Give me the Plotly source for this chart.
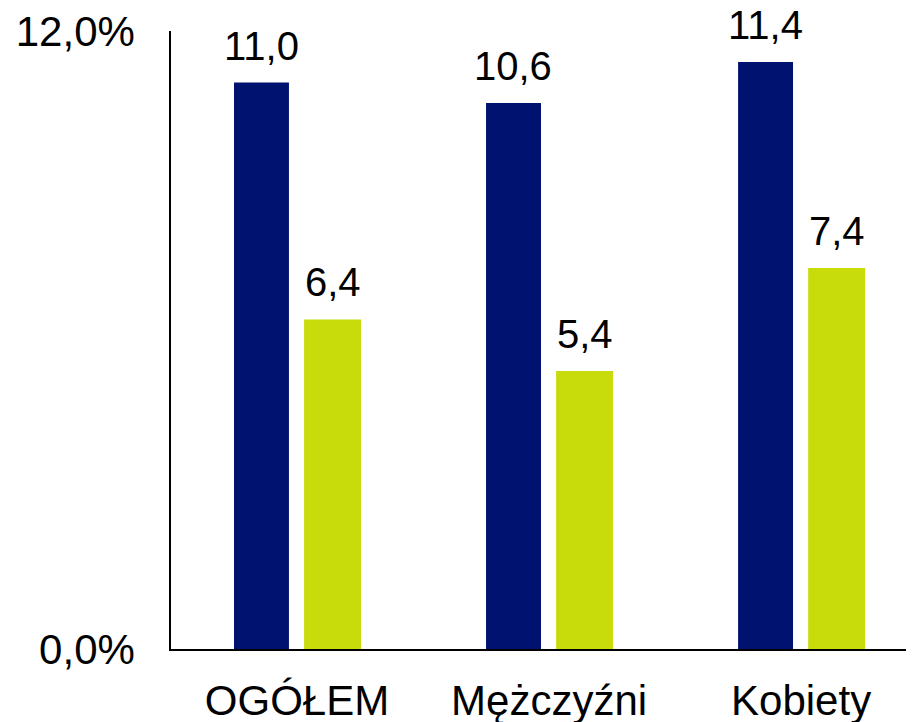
import plotly.graph_objects as go

categories = ["OGÓŁEM", "Mężczyźni", "Kobiety"]
series_a = [11.0, 10.6, 11.4]
series_b = [6.4, 5.4, 7.4]
y_ticks = [0, 12]
y_tick_labels = ["0,0%", "12,0%"]

NAVY = "#001270"
GREEN = "#c8dc0c"
FONT = "Liberation Sans, Arial, sans-serif"

fig = go.Figure()
fig.add_trace(go.Bar(x=categories, y=series_a, marker=dict(color=NAVY, line=dict(width=0)),
                     width=0.218, offset=-0.25, showlegend=False))
fig.add_trace(go.Bar(x=categories, y=series_b, marker=dict(color=GREEN, line=dict(width=0)),
                     width=0.226, offset=0.028, showlegend=False))

for cat, va, vb in zip(categories, series_a, series_b):
    for v, xs in ((va, -36), (vb, 36)):
        fig.add_annotation(x=cat, y=v, xshift=xs, yshift=13, yanchor="bottom",
                           text=f"{v:.1f}".replace(".", ","), showarrow=False,
                           font=dict(family=FONT, size=40, color="black"))

# page body has an 8px default margin; margins compensate for it
fig.update_layout(
    width=914, height=722,
    margin=dict(l=163, r=8, t=23, b=81, pad=0),
    paper_bgcolor="white", plot_bgcolor="white",
    barmode="group",
    font=dict(family=FONT, size=40, color="black"),
)
fig.update_xaxes(range=[-0.5, 2.448], showline=True, linecolor="black", linewidth=1.5,
                 showgrid=False, zeroline=False, ticks="", ticklabelstandoff=14,
                 automargin=False, ticklabeloverflow="allow",
                 tickfont=dict(family=FONT, size=42, color="black"))
fig.update_yaxes(range=[0, 12], showline=True, linecolor="black", linewidth=1.5,
                 showgrid=False, zeroline=False, ticks="", tickvals=y_ticks,
                 ticktext=y_tick_labels, ticklabelstandoff=26, automargin=False,
                 ticklabeloverflow="allow",
                 tickfont=dict(family=FONT, size=42, color="black"))

fig.write_html("out.html")
